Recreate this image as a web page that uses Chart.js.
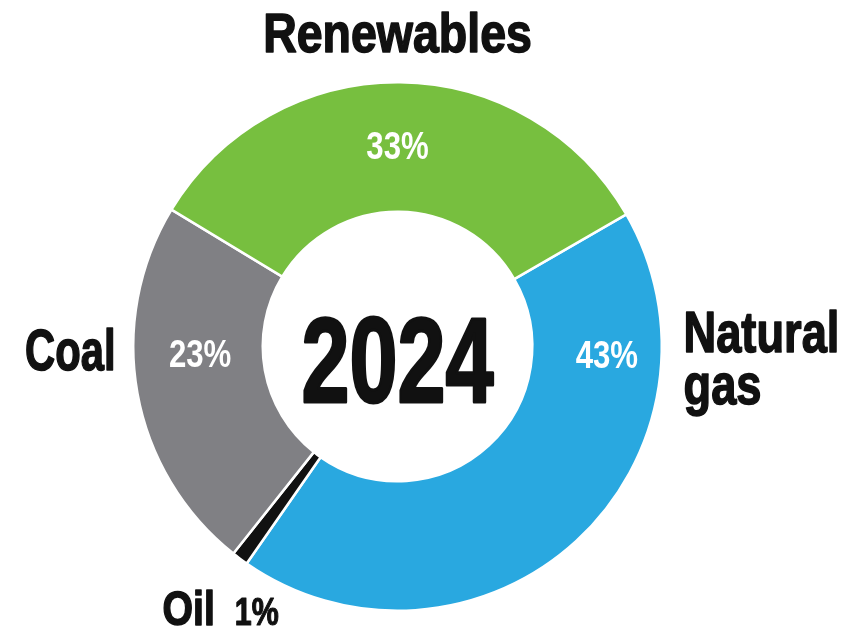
<!DOCTYPE html>
<html>
<head>
<meta charset="utf-8">
<style>
  html, body { margin: 0; padding: 0; background: #ffffff; }
  #wrap { width: 858px; height: 629px; }
</style>
<script src="https://cdn.jsdelivr.net/npm/chart.js@4.4.1/dist/chart.umd.min.js"></script>
</head>
<body>
<div id="wrap"><canvas id="c" width="858" height="629"></canvas></div>
<script>
// Electricity generation mix, 2024
const categories = ['Natural gas', 'Oil', 'Coal', 'Renewables'];
const shares = [43, 1, 23, 33];
const centerTitle = '2024';

const FONT = '"Liberation Sans", Arial, sans-serif';

// Draws condensed heavy text: glyphs squeezed horizontally, with a thin
// outline in the fill colour to give a black-weight look
function condensedText(ctx, text, x, y, size, squeeze, align, color, heavy) {
  ctx.save();
  ctx.font = 'bold ' + size + 'px ' + FONT;
  ctx.fillStyle = color;
  ctx.strokeStyle = color;
  ctx.lineJoin = 'round';
  ctx.textAlign = align;
  ctx.textBaseline = 'alphabetic';
  ctx.translate(x, y);
  ctx.scale(squeeze, 1);
  ctx.fillText(text, 0, 0);
  if (heavy) {
    ctx.lineWidth = heavy;
    ctx.strokeText(text, 0, 0);
  }
  ctx.restore();
}

const ringLabels = {
  id: 'ringLabels',
  afterDraw(chart, args, opts) {
    const ctx = chart.ctx;
    const meta = chart.getDatasetMeta(0);
    const first = meta.data[0];
    const cx = first.x, cy = first.y;
    const rOut = first.outerRadius, rIn = first.innerRadius;
    const values = chart.data.datasets[0].data;
    const names = chart.data.labels;

    // year in the hole
    condensedText(ctx, centerTitle, cx, cy + 55, 120, 0.72, 'center', '#111111', 3);

    // value labels inside the ring
    opts.valueAngles.forEach((deg, i) => {
      if (deg === null) return;
      const a = (deg - 90) * Math.PI / 180;
      const r = (rOut + rIn) / 2 + opts.valueRadiusShift[i];
      const x = cx + Math.cos(a) * r;
      const y = cy + Math.sin(a) * r;
      condensedText(ctx, values[i] + '%', x, y + 14, 39, 0.8, 'center', '#ffffff', 0);
    });

    // category names round the ring
    opts.names.forEach((p, i) => {
      const lines = p.wrap ? names[i].split(' ') : [names[i]];
      lines.forEach((ln, k) => {
        condensedText(ctx, ln, cx + p.dx, cy + p.dy + k * 52, p.size, p.squeeze, p.align, '#111111', 1.6);
      });
      if (p.withValue) {
        ctx.save();
        ctx.font = 'bold ' + p.size + 'px ' + FONT;
        const w = ctx.measureText(names[i]).width * p.squeeze;
        ctx.restore();
        condensedText(ctx, values[i] + '%', cx + p.dx + w + 20, cy + p.dy, 38, 0.8, 'left', '#111111', 1.2);
      }
    });
  }
};

new Chart(document.getElementById('c'), {
  type: 'doughnut',
  data: {
    labels: categories,
    datasets: [{
      data: shares,
      backgroundColor: ['#29a8e0', '#111111', '#808084', '#77bf3f'],
      borderColor: '#ffffff',
      borderWidth: 2.5,
      hoverOffset: 0
    }]
  },
  options: {
    responsive: false,
    animation: false,
    devicePixelRatio: 1,
    rotation: 60,
    cutout: '51%',
    layout: { padding: { top: 81, bottom: 17, left: 132, right: 195 } },
    plugins: {
      legend: { display: false },
      tooltip: { enabled: false },
      ringLabels: {
        valueAngles: [92, null, 268, 0],
        valueRadiusShift: [10, 0, -2, 2],
        names: [
          { dx: 286, dy: 5, size: 58, squeeze: 0.78, align: 'left', wrap: true },
          { dx: -235, dy: 278, size: 49, squeeze: 0.8, align: 'left', withValue: true },
          { dx: -282, dy: 23, size: 58, squeeze: 0.72, align: 'right' },
          { dx: 0, dy: -295, size: 56, squeeze: 0.83, align: 'center' }
        ]
      }
    }
  },
  plugins: [ringLabels]
});
</script>
</body>
</html>
